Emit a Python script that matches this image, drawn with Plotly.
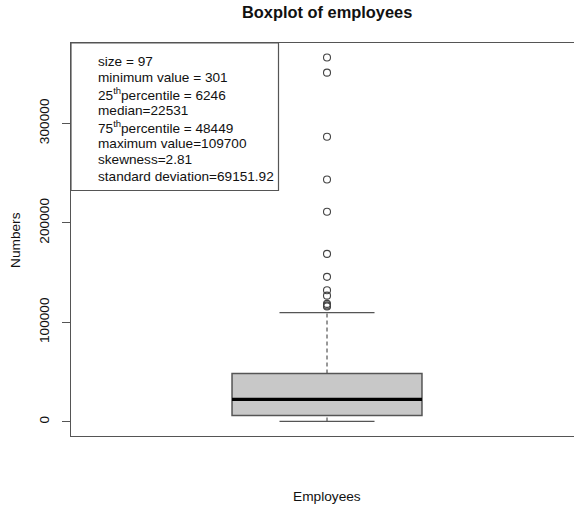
import plotly.graph_objects as go

# ---- data ----
category = ["Employees"]
q1 = [6246]
median = [22531]
q3 = [48449]
lower_whisker = [301]
upper_whisker = [109700]
outliers = [366200, 351000, 286600, 243600, 211100, 168800, 145700,
            132200, 126800, 118500, 117000, 116000]
y_tick_vals = [0, 100000, 200000, 300000]
y_tick_text = ["0", "100000", "200000", "300000"]
stats_lines = [
    "size = 97",
    "minimum value = 301",
    "25<sup>th</sup>percentile = 6246",
    "median=22531",
    "75<sup>th</sup>percentile = 48449",
    "maximum value=109700",
    "skewness=2.81",
    "standard deviation=69151.92",
]

FONT = "Liberation Sans, Arial, Helvetica, sans-serif"
W, H = 574, 507
# plot area in page pixels: left 71, top 43, bottom 436, right = figure edge
ML, MT = 71, 43
MB = H - 436
MR = 0
PW, PH = W - ML - MR, H - MT - MB


def px(xpage):
    return (xpage - ML) / PW


def py(ypage):
    return 1 - (ypage - MT) / PH


pos = 1
box_w = 0.371
cap_half = 0.0928
edge = "#555555"

fig = go.Figure()
fig.add_trace(go.Box(
    x=[pos], q1=q1, median=median, q3=q3,
    lowerfence=q1, upperfence=q3,
    width=box_w, whiskerwidth=0,
    fillcolor="#c8c8c8", line=dict(color=edge, width=1.5),
    boxpoints=False, hoverinfo="skip", name=category[0],
))
# thick median
fig.add_trace(go.Scatter(x=[pos - box_w / 2, pos + box_w / 2], y=[median[0], median[0]],
                         mode="lines", line=dict(color="black", width=3.2), hoverinfo="skip"))
# dashed whiskers
fig.add_trace(go.Scatter(x=[pos, pos], y=[q3[0], upper_whisker[0]], mode="lines",
                         line=dict(color=edge, width=1.2, dash="4px,3px"), hoverinfo="skip"))
fig.add_trace(go.Scatter(x=[pos, pos], y=[lower_whisker[0], q1[0]], mode="lines",
                         line=dict(color=edge, width=1.2, dash="4px,3px"), hoverinfo="skip"))
# caps
for v in (upper_whisker[0], lower_whisker[0]):
    fig.add_trace(go.Scatter(x=[pos - cap_half, pos + cap_half], y=[v, v], mode="lines",
                             line=dict(color=edge, width=1.3), hoverinfo="skip"))
# outliers
fig.add_trace(go.Scatter(x=[pos] * len(outliers), y=outliers, mode="markers",
                         marker=dict(symbol="circle-open", size=7, color="#444444",
                                     line=dict(width=1.1)),
                         hoverinfo="skip"))

annotations = []
for i, t in enumerate(stats_lines):
    annotations.append(dict(text=t, xref="paper", yref="paper",
                            x=px(96), y=py(61.5 + 16.4 * i),
                            xanchor="left", yanchor="middle", showarrow=False,
                            font=dict(family=FONT, size=13.6, color="#111111")))
annotations.append(dict(text="Employees", xref="paper", yref="paper",
                        x=px(327), y=py(496),
                        xanchor="center", yanchor="middle", showarrow=False,
                        font=dict(family=FONT, size=13.7, color="#111111")))
annotations.append(dict(text="Numbers", xref="paper", yref="paper",
                        x=px(15), y=py(240), textangle=-90,
                        xanchor="center", yanchor="middle", showarrow=False,
                        font=dict(family=FONT, size=13.7, color="#111111")))
annotations.append(dict(text="<b>Boxplot of employees</b>", xref="paper", yref="paper",
                        x=px(327), y=py(12),
                        xanchor="center", yanchor="middle", showarrow=False,
                        font=dict(family=FONT, size=16.4, color="#111111")))

shapes = [dict(type="rect", xref="paper", yref="paper",
               x0=0, x1=px(278.5), y0=py(190.5), y1=1,
               line=dict(color=edge, width=1.2), fillcolor="rgba(0,0,0,0)")]

fig.update_layout(
    width=W, height=H,
    margin=dict(l=ML, r=MR, t=MT, b=MB, pad=0),
    paper_bgcolor="white", plot_bgcolor="white",
    showlegend=False,
    hovermode=False,
    xaxis=dict(range=[0.5, 1.4824], showticklabels=False, ticks="", showgrid=False,
               zeroline=False, showline=True, mirror=True, linecolor=edge, linewidth=1.2),
    yaxis=dict(range=[-14335, 380836], tickvals=y_tick_vals, ticktext=y_tick_text,
               tickangle=-90, ticks="outside", ticklen=8, tickcolor=edge, tickwidth=1.2,
               ticklabelstandoff=7,
               tickfont=dict(family=FONT, size=13.7, color="#111111"),
               showgrid=False, zeroline=False, showline=True, mirror=False,
               linecolor=edge, linewidth=1.2),
    annotations=annotations,
    shapes=shapes,
)

fig.write_html("out.html", config={"displayModeBar": False},
               post_script="document.body.style.margin='0';")
